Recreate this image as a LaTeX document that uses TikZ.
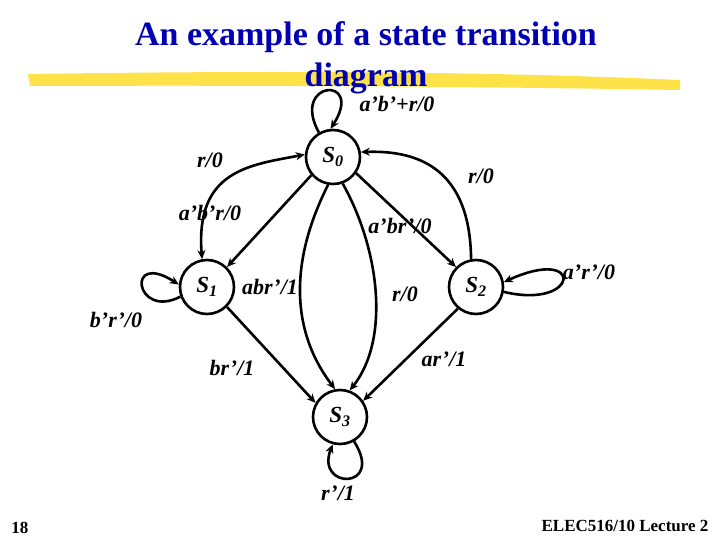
\documentclass[tikz,border=0pt]{standalone}
\usepackage{fontspec}
\setmainfont{Liberation Serif}
\usetikzlibrary{arrows.meta}
\begin{document}
\begin{tikzpicture}[x=1pt,y=-1pt,
  st/.style={circle,draw,line width=2.6pt,minimum size=54pt,inner sep=0pt,font=\fontsize{23}{23}\selectfont\bfseries\itshape},
  lbl/.style={font=\fontsize{22}{22}\selectfont\bfseries\itshape,inner sep=0pt},
  ed/.style={line width=2.6pt,-{Stealth[length=9pt,width=8pt]}}]
\useasboundingbox (0,0) rectangle (720,540);
\fill[yellow!75!orange!85!white,opacity=0.85] (28,74) .. controls (300,70) and (500,72) .. (680,80) -- (680,90) .. controls (500,87) and (300,85) .. (30,86) -- cycle;
\node[font=\fontsize{34}{34}\selectfont\bfseries,text=blue!70!black] (t1) at (366,37) {An example of a state transition};
\node[font=\fontsize{34}{34}\selectfont\bfseries,text=blue!70!black] (t2) at (366,78) {diagram};
\node[st] (s0) at (333,157) {S\textsubscript{0}};
\node[st] (s1) at (207,287) {S\textsubscript{1}};
\node[st] (s2) at (476,287) {S\textsubscript{2}};
\node[st] (s3) at (340,417) {S\textsubscript{3}};
% self loops
\draw[ed] (s0.120) .. controls (290,80) and (365,75) .. (s0.95);
\draw[ed] (s1.200) .. controls (135,320) and (125,250) .. (s1.175);
\draw[ed] (s2.-10) .. controls (580,310) and (585,245) .. (s2.10);
\draw[ed] (s3.-60) .. controls (385,490) and (315,490) .. (s3.-105);
% edges
\draw[line width=2.6pt,{Stealth[length=9pt,width=8pt]}-{Stealth[length=9pt,width=8pt]}] (s1.100) .. controls (195,170) and (250,165) .. (s0.175);
\draw[ed] (s0.220) -- (s1.45);
\draw[ed] (s0.-35) -- (s2.135);
\draw[ed] (s2.100) .. controls (470,170) and (420,150) .. (s0.10);
\draw[ed] (s0.260) .. controls (290,260) and (290,330) .. (s3.100);
\draw[ed] (s0.290) .. controls (380,250) and (390,340) .. (s3.70);
\draw[ed] (s1.-45) -- (s3.150);
\draw[ed] (s2.-130) -- (s3.35);
% labels
\node[lbl] (l1) at (397,104) {a’b’+r/0};
\node[lbl] (l2) at (210,160) {r/0};
\node[lbl] (l3) at (481,176) {r/0};
\node[lbl] (l4) at (210,213) {a’b’r/0};
\node[lbl] (l5) at (400,226) {a’br’/0};
\node[lbl] (l6) at (270,287) {abr’/1};
\node[lbl] (l7) at (405,294) {r/0};
\node[lbl] (l8) at (589,272) {a’r’/0};
\node[lbl] (l9) at (116,320) {b’r’/0};
\node[lbl] (l10) at (232,368) {br’/1};
\node[lbl] (l11) at (444,359) {ar’/1};
\node[lbl] (l12) at (338,493) {r’/1};
\node[font=\fontsize{17}{17}\selectfont\bfseries] (n) at (20,528) {18};
\node[font=\fontsize{17}{17}\selectfont\bfseries] (f) at (625,526) {ELEC516/10 Lecture 2};
\end{tikzpicture}
\end{document}
